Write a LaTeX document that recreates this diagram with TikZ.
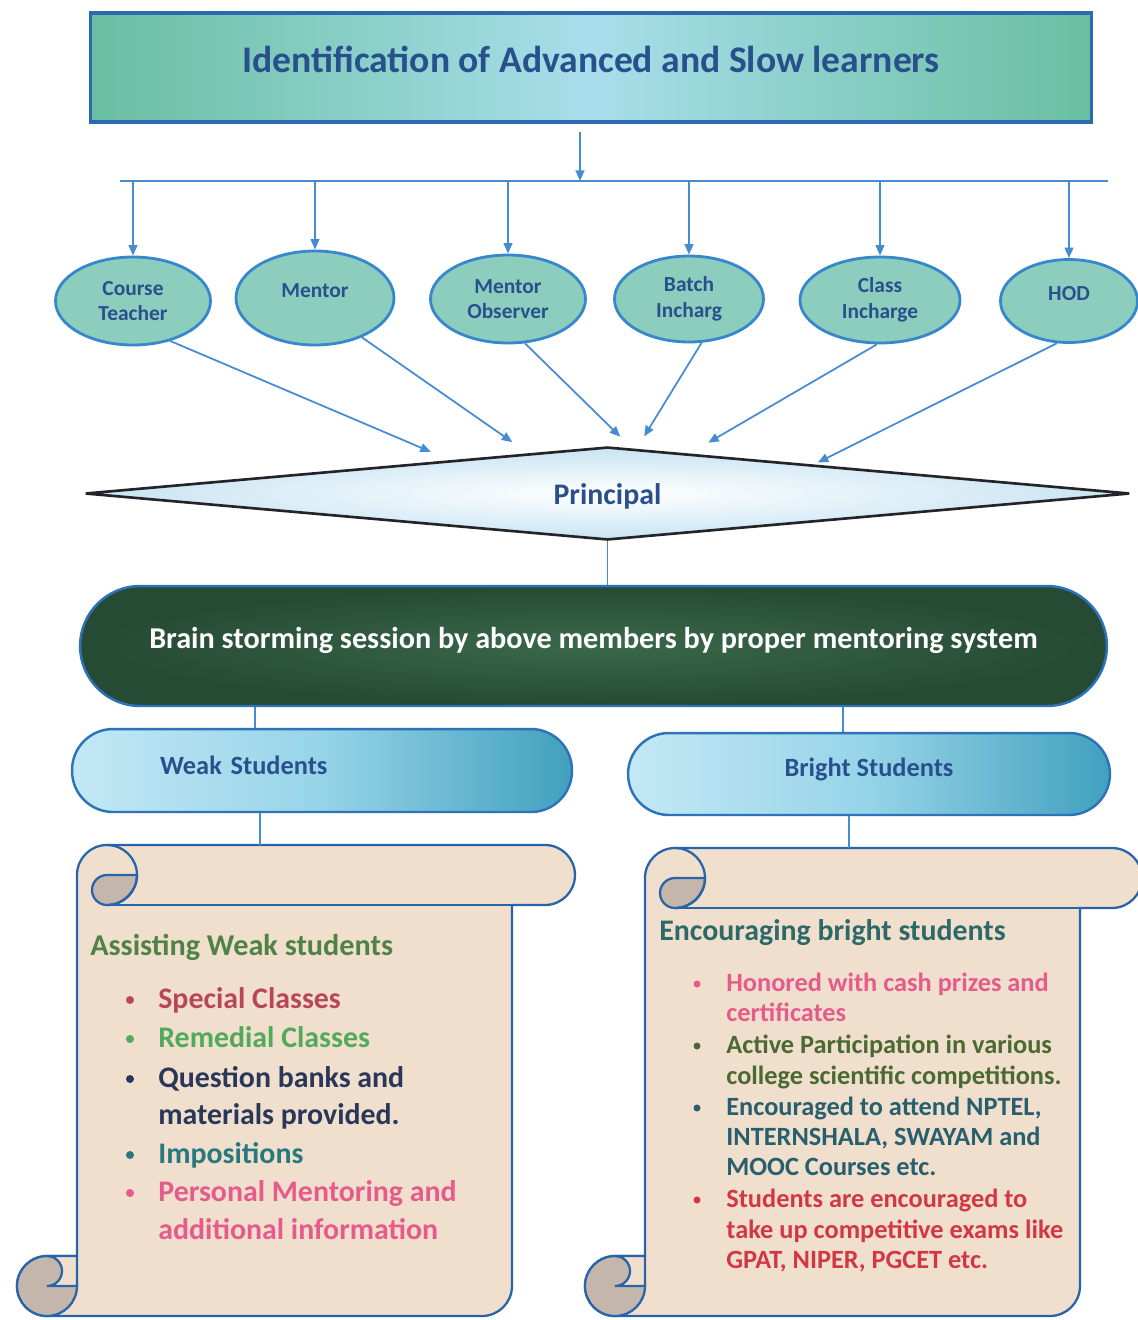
\documentclass[tikz,border=0pt]{standalone}
\usepackage{fontspec}
\setmainfont{Carlito}
\usetikzlibrary{shapes.geometric,arrows.meta,calc}
\definecolor{ttlb}{RGB}{45,105,175}
\definecolor{ttle}{RGB}{105,190,160}
\definecolor{ttlm}{RGB}{168,222,235}
\definecolor{txtb}{RGB}{40,80,140}
\definecolor{arrc}{RGB}{70,140,210}
\definecolor{ellb}{RGB}{55,135,205}
\definecolor{ellf}{RGB}{140,205,190}
\definecolor{dmf}{RGB}{222,240,248}
\definecolor{dmi}{RGB}{200,228,242}
\definecolor{dmb}{RGB}{35,35,40}
\definecolor{brf}{RGB}{38,74,52}
\definecolor{bri}{RGB}{58,104,74}
\definecolor{stb}{RGB}{45,115,185}
\definecolor{skyl}{RGB}{195,232,245}
\definecolor{skym}{RGB}{150,212,232}
\definecolor{skyd}{RGB}{65,160,190}
\definecolor{parch}{RGB}{241,223,206}
\definecolor{curlc}{RGB}{196,182,170}
\definecolor{scb}{RGB}{40,100,170}
\definecolor{cgrn}{RGB}{80,130,70}
\definecolor{cred}{RGB}{185,70,85}
\definecolor{clgr}{RGB}{80,170,90}
\definecolor{cnav}{RGB}{40,55,90}
\definecolor{ctea}{RGB}{40,120,125}
\definecolor{cpnk}{RGB}{230,90,140}
\definecolor{crtt}{RGB}{45,105,105}
\definecolor{coli}{RGB}{75,105,50}
\definecolor{cenc}{RGB}{40,95,110}
\definecolor{cstu}{RGB}{210,55,70}
\newcommand\rz[2]{\raisebox{#1}[0pt][0pt]{#2}}
% #1 body left, #2 body right, #3 top, #4 bottom, #5 right end of top roll
\newcommand\myscroll[5]{%
  \filldraw[scrl] (#1,#3-30) arc[start angle=180,end angle=90,radius=30]
    -- (#5-30,#3) arc[start angle=90,end angle=-90,radius=30]
    -- (#2,#3-60) -- (#2,#4+30) arc[start angle=0,end angle=-90,radius=30]
    -- (#1-30,#4) arc[start angle=-90,end angle=-270,radius=30]
    -- (#1,#4+60) -- cycle;
  % top-left curl
  \draw[scrb] (#1+30,#3-60) -- (#2,#3-60);
  \filldraw[curl] (#1+60,#3-30) -- (#1+30,#3-30) arc[start angle=90,end angle=270,radius=15]
    arc[start angle=-90,end angle=0,radius=30] -- cycle;
  \draw[scrb] (#1+30,#3) arc[start angle=90,end angle=-90,radius=30];
  % bottom-left curl
  \filldraw[curl] (#1-30,#4+30) circle[radius=30];
  \filldraw[scrl] (#1-30,#4+60) -- (#1,#4+60) -- (#1,#4+30) -- (#1-30,#4+30)
    arc[start angle=-90,end angle=90,radius=15] -- cycle;
}
\begin{document}
\begin{tikzpicture}[x=0.02cm,y=0.02cm,
  arr/.style={draw=arrc, line width=1pt, -{Triangle[length=6pt,width=5pt]}},
  ln/.style={draw=arrc, line width=1.1pt},
  ell/.style={ellipse, draw=ellb, line width=1.6pt, fill=ellf, inner sep=0pt, align=center, text=txtb, font=\fontsize{12.2}{14.5}\selectfont\bfseries},
  scrl/.style={fill=parch, draw=scb, line width=1.3pt},
  scrb/.style={draw=scb, line width=1.3pt},
  curl/.style={fill=curlc, draw=scb, line width=1.3pt},
  lt/.style={anchor=west, inner sep=0pt, text height=11pt, text depth=1pt, font=\fontsize{17}{20}\selectfont\bfseries},
  rt/.style={anchor=west, inner sep=0pt, text height=10pt, text depth=1pt, font=\fontsize{15}{18}\selectfont\bfseries}]
\clip (0,0) rectangle (1138,-1320);
\fill[white] (0,0) rectangle (1138,-1320);

% title
\node[draw=ttlb, line width=1.8pt, left color=ttle, right color=ttle, middle color=ttlm,
  minimum width=20.04cm, minimum height=2.18cm, inner sep=0pt, text=txtb,
  font=\fontsize{21.4}{25}\selectfont\bfseries] (title) at (591,-67.5) {\rz{-2.8pt}{Identification of Advanced and Slow learners}};

% bus
\coordinate (busL) at (120,-181);
\coordinate (busR) at (1108,-181);
\draw[ln] (busL) -- (busR);
\coordinate (tdrop) at ([xshift=-0.22cm]title.south);
\draw[arr] ([yshift=-0.16cm]tdrop) -- (tdrop |- busL);

% ellipses
\node[ell, minimum width=3.1cm, minimum height=1.76cm] (ct) at (133,-301) {Course\\Teacher};
\node[ell, minimum width=3.16cm, minimum height=1.88cm] (mt) at (315,-298) {\rz{0.3pt}{Mentor}};
\node[ell, minimum width=3.1cm, minimum height=1.76cm] (mo) at (508,-299) {Mentor\\Observer};
\node[ell, minimum width=2.98cm, minimum height=1.72cm] (bi) at (689,-299) {Batch\\Incharg};
\node[ell, minimum width=3.2cm, minimum height=1.72cm] (ci) at (880,-300) {Class\\Incharge};
\node[ell, minimum width=2.74cm, minimum height=1.66cm] (hod) at (1069,-301) {\rz{0.3pt}{HOD}};

\foreach \n in {ct,mt,mo,bi,ci,hod}{\draw[arr] (\n.north |- busL) -- (\n.north);}

% diamond
\node[diamond, aspect=11.2, draw=dmb, line width=1.5pt, inner color=white, outer color=dmi, inner sep=0pt,
  minimum width=20.9cm, minimum height=1.86cm, text=txtb,
  font=\fontsize{17}{20}\selectfont\bfseries] (prin) at (607.5,-493.5) {\rz{-6pt}{Principal}};

\draw[arr, shorten >=0.42cm] (ct.-47) -- (prin.168);
\draw[arr, shorten >=0.38cm] (mt.-40) -- (prin.153);
\draw[arr, shorten >=0.32cm] (mo.-69) -- (prin.62);
\draw[arr, shorten >=0.28cm] (bi.-74) -- (prin.57);
\draw[arr, shorten >=0.42cm] (ci.-94) -- (prin.26);
\draw[arr, shorten >=0.09cm] (hod.-106) -- (prin.8);

% brainstorming
\node[draw=stb, line width=1.4pt, inner color=bri, outer color=brf, rounded corners=1.2cm, minimum width=20.54cm,
  minimum height=2.4cm, inner sep=0pt, text=white,
  font=\fontsize{17.2}{20}\selectfont\bfseries] (brain) at (593.5,-646) {\rz{-1.2pt}{Brain storming session by above members by proper mentoring system}};
\draw[ln] (prin.south) -- (prin.south |- brain.north);

% weak / bright
\node[draw=stb, line width=1.4pt, left color=skyl, right color=skyd, middle color=skym,
  rounded corners=0.82cm, minimum width=10cm, minimum height=1.66cm, inner xsep=1.76cm, inner ysep=0pt,
  text width=6.48cm, align=left, text=txtb,
  font=\fontsize{15}{18}\selectfont\bfseries] (weak) at (322,-770.5) {\rz{-2pt}{Weak Students}};
\node[draw=stb, line width=1.4pt, left color=skyl, right color=skyd, middle color=skym,
  rounded corners=0.82cm, minimum width=9.64cm, minimum height=1.64cm, inner sep=0pt, text=txtb,
  font=\fontsize{15}{18}\selectfont\bfseries] (bright) at (869,-774) {\rz{-1.6pt}{Bright Students}};

\coordinate (wdrop) at ([xshift=-1.34cm]weak.north);
\draw[ln] (wdrop) -- (wdrop |- brain.south);
\coordinate (bdrop) at ([xshift=-0.52cm]bright.north);
\draw[ln] (bdrop) -- (bdrop |- brain.south);

% scrolls
\myscroll{77}{512}{-845}{-1316}{575}
\myscroll{645}{1080}{-848}{-1316}{1142}
\coordinate (lsT) at (260,-845);
\coordinate (rsT) at (849,-848);
\draw[ln] ([xshift=-1.24cm]weak.south) -- (lsT);
\draw[ln] ([xshift=-0.4cm]bright.south) -- (rsT);

% left scroll text
\node[lt, font=\fontsize{17.2}{20}\selectfont\bfseries, text=cgrn] (lttl) at (90,-947) {Assisting Weak students};
\fill[cred] (130,-1000) circle[radius=4];
\node[lt, text=cred] (l1) at (158,-1000) {Special Classes};
\fill[clgr] (130,-1039) circle[radius=4];
\node[lt, text=clgr] (l2) at (158,-1039) {Remedial Classes};
\fill[cnav] (130,-1079) circle[radius=4];
\node[lt, text=cnav] (l3) at (158,-1079) {Question banks and};
\node[lt, text=cnav] (l3b) at (158,-1116) {materials provided.};
\fill[ctea] (130,-1155) circle[radius=4];
\node[lt, text=ctea] (l4) at (158,-1155) {Impositions};
\fill[cpnk] (130,-1193) circle[radius=4];
\node[lt, text=cpnk] (l5) at (158,-1193) {Personal Mentoring and};
\node[lt, text=cpnk] (l5b) at (158,-1231) {additional information};

% right scroll text
\node[rt, font=\fontsize{17}{20}\selectfont\bfseries, text=crtt] (rttl) at (659,-933) {Encouraging bright students};
\fill[cpnk] (697,-984) circle[radius=3.5];
\node[rt, text=cpnk] (r1) at (726,-984) {Honored with cash prizes and};
\node[rt, text=cpnk] (r1b) at (726,-1014) {certificates};
\fill[coli] (697,-1046) circle[radius=3.5];
\node[rt, text=coli] (r2) at (726,-1046) {Active Participation in various};
\node[rt, text=coli] (r2b) at (726,-1077) {college scientific competitions.};
\fill[cenc] (697,-1108) circle[radius=3.5];
\node[rt, text=cenc] (r3) at (726,-1108) {Encouraged to attend NPTEL,};
\node[rt, text=cenc] (r3b) at (726,-1138) {INTERNSHALA, SWAYAM and};
\node[rt, text=cenc] (r3c) at (726,-1168) {MOOC Courses etc.};
\fill[cstu] (697,-1200) circle[radius=3.5];
\node[rt, text=cstu] (r4) at (726,-1200) {Students are encouraged to};
\node[rt, text=cstu] (r4b) at (726,-1231) {take up competitive exams like};
\node[rt, text=cstu] (r4c) at (726,-1261) {GPAT, NIPER, PGCET etc.};
\end{tikzpicture}
\end{document}
